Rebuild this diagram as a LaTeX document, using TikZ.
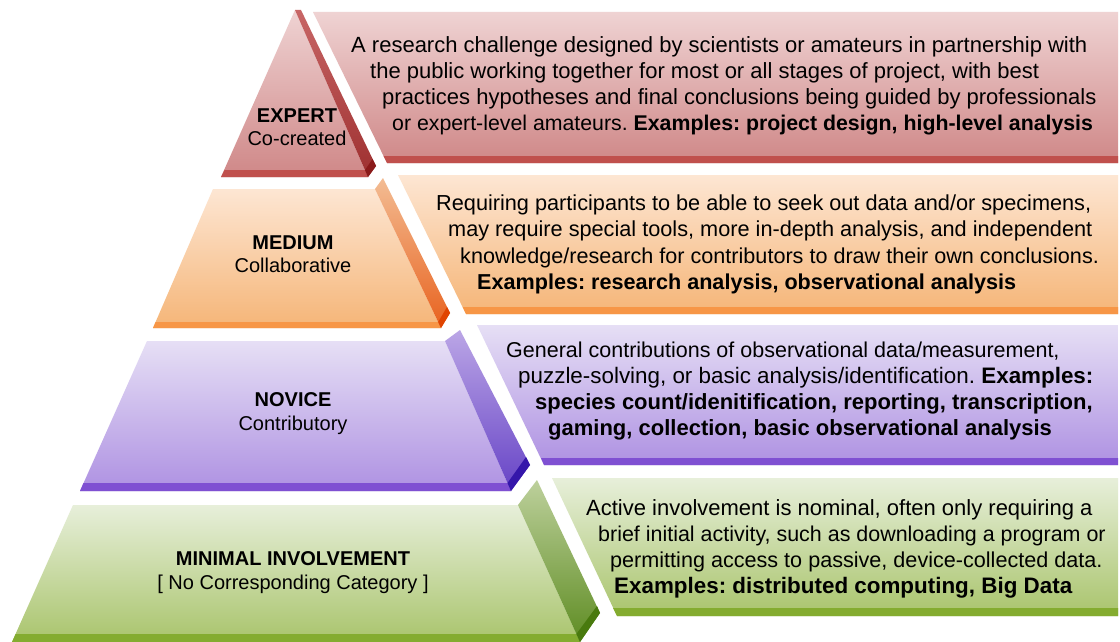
\documentclass[tikz,border=0pt]{standalone}
\usepackage{fontspec}
\setmainfont{Liberation Sans}
\frenchspacing
\definecolor{redT}{HTML}{EFD3D3}
\definecolor{redB}{HTML}{CF8787}
\definecolor{redBand}{HTML}{C0504D}
\definecolor{redST}{HTML}{C86666}
\definecolor{redSB}{HTML}{9E3030}
\definecolor{redDark}{HTML}{8A1A1A}
\definecolor{oraT}{HTML}{FDE6D3}
\definecolor{oraB}{HTML}{F5B577}
\definecolor{oraBand}{HTML}{F79646}
\definecolor{oraST}{HTML}{F3BC93}
\definecolor{oraSB}{HTML}{E8621E}
\definecolor{oraDark}{HTML}{E04400}
\definecolor{purT}{HTML}{E6DFF5}
\definecolor{purB}{HTML}{AE91E2}
\definecolor{purBand}{HTML}{7F50D2}
\definecolor{purST}{HTML}{BBA6E6}
\definecolor{purSB}{HTML}{6643C6}
\definecolor{purDark}{HTML}{3516AA}
\definecolor{grnT}{HTML}{E7EFDA}
\definecolor{grnB}{HTML}{A9C46C}
\definecolor{grnBand}{HTML}{84AC30}
\definecolor{grnST}{HTML}{BDD09C}
\definecolor{grnSB}{HTML}{5E8C22}
\definecolor{grnDark}{HTML}{497A0E}
\begin{document}
\begin{tikzpicture}[x=1pt,y=-1pt,
  desc/.style={anchor=base west, inner sep=0pt, font=\fontsize{22}{26}\selectfont},
  descsz/.style={anchor=base west, inner sep=0pt, font=\fontsize{#1}{26}\selectfont},
  lab/.style={anchor=base, inner sep=0pt, font=\fontsize{20}{24}\selectfont}]
\useasboundingbox (0,0) rectangle (1120,642);
\fill[white] (0,0) rectangle (1120,642);

% ---------- Tier 1 : Expert ----------
\shade[top color=redT, bottom color=redB] (295,10) -- (368,177) -- (221,177) -- cycle;
\fill[redBand] (224.6,170) -- (365,170) -- (368,177) -- (221,177) -- cycle;
\shade[top color=redST, bottom color=redSB] (295,10) -- (301,10) -- (376,166) -- (368,177) -- cycle;
\fill[redDark] (365,170) -- (372.6,159) -- (376,166) -- (368,177) -- cycle;
\shade[top color=redT, bottom color=redB] (313,12) -- (1118,12) -- (1118,163) -- (387,163) -- cycle;
\fill[redBand] (383.6,156) -- (1118,156) -- (1118,163) -- (387,163) -- cycle;

% ---------- Tier 2 : Medium ----------
\shade[top color=oraT, bottom color=oraB] (213,189) -- (375,189) -- (441,328) -- (153,328) -- cycle;
\fill[oraBand] (155.6,322) -- (438.2,322) -- (441,328) -- (153,328) -- cycle;
\shade[top color=oraST, bottom color=oraSB] (375,189) -- (383,178) -- (450,313) -- (441,328) -- cycle;
\fill[oraDark] (438.2,322) -- (447,307) -- (450,313) -- (441,328) -- cycle;
\shade[top color=oraT, bottom color=oraB] (398,175) -- (1118,175) -- (1118,314) -- (466,314) -- cycle;
\fill[oraBand] (462.7,307) -- (1118,307) -- (1118,314) -- (466,314) -- cycle;

% ---------- Tier 3 : Novice ----------
\shade[top color=purT, bottom color=purB] (147,341) -- (445,341) -- (511,491) -- (80,491) -- cycle;
\fill[purBand] (83.5,483) -- (507.5,483) -- (511,491) -- (80,491) -- cycle;
\shade[top color=purST, bottom color=purSB] (445,341) -- (460,330) -- (530,465) -- (511,491) -- cycle;
\fill[purDark] (507.5,483) -- (526,457) -- (530,465) -- (511,491) -- cycle;
\shade[top color=purT, bottom color=purB] (477,325) -- (1118,325) -- (1118,465) -- (544,465) -- cycle;
\fill[purBand] (541,458) -- (1118,458) -- (1118,465) -- (544,465) -- cycle;

% ---------- Tier 4 : Minimal ----------
\shade[top color=grnT, bottom color=grnB] (73,505) -- (518,505) -- (580,642) -- (12,642) -- cycle;
\fill[grnBand] (15.6,634) -- (576.4,634) -- (580,642) -- (12,642) -- cycle;
\shade[top color=grnST, bottom color=grnSB] (518,505) -- (537,480) -- (600,613) -- (580,642) -- cycle;
\fill[grnDark] (576.4,634) -- (597,606) -- (600,613) -- (580,642) -- cycle;
\shade[top color=grnT, bottom color=grnB] (552,478) -- (1118,478) -- (1118,616) -- (617,616) -- cycle;
\fill[grnBand] (613,608) -- (1118,608) -- (1118,616) -- (617,616) -- cycle;

% ---------- Tier labels ----------
\node[lab] (l1a) at (297,122.5) {\textbf{EXPERT}};
\node[lab] (l1b) at (297,146) {Co-created};
\node[lab] (l2a) at (293,249) {\textbf{MEDIUM}};
\node[lab] (l2b) at (293,272.5) {Collaborative};
\node[lab] (l3a) at (293,406) {\textbf{NOVICE}};
\node[lab] (l3b) at (293,430) {Contributory};
\node[lab] (l4a) at (293,565) {\textbf{MINIMAL INVOLVEMENT}};
\node[lab] (l4b) at (293,589) {[ No Corresponding Category ]};

% ---------- Descriptions ----------
\node[desc] (d1a) at (351,52.5) {A research challenge designed by scientists or amateurs in partnership with};
\node[desc] (d1b) at (370,78.7) {the public working together for most or all stages of project, with best};
\node[desc] (d1c) at (382,105) {practices hypotheses and final conclusions being guided by professionals};
\node[descsz=21.3] (d1d) at (392,131) {or expert-level amateurs. \textbf{Examples: project design, high-level analysis}};

\node[descsz=21.7] (d2a) at (436,210) {Requiring participants to be able to seek out data and/or specimens,};
\node[descsz=21.7] (d2b) at (448,236.5) {may require special tools, more in-depth analysis, and independent};
\node[descsz=21.6] (d2c) at (460,263) {knowledge/research for contributors to draw their own conclusions.};
\node[descsz=21.6] (d2d) at (477,289.5) {\textbf{Examples: research analysis, observational analysis}};

\node[descsz=21.5] (d3a) at (506,357) {General contributions of observational data/measurement,};
\node[descsz=22.4] (d3b) at (518,383) {puzzle-solving, or basic analysis/identification. \textbf{Examples:}};
\node[desc] (d3c) at (535,409) {\textbf{species count/idenitification, reporting, transcription,}};
\node[desc] (d3d) at (548,435) {\textbf{gaming, collection, basic observational analysis}};

\node[desc] (d4a) at (586,515) {Active involvement is nominal, often only requiring a};
\node[descsz=21.45] (d4b) at (598,541) {brief initial activity, such as downloading a program or};
\node[descsz=21.6] (d4c) at (610,567) {permitting access to passive, device-collected data.};
\node[descsz=22.4] (d4d) at (614,593) {\textbf{Examples: distributed computing, Big Data}};
\end{tikzpicture}
\end{document}
